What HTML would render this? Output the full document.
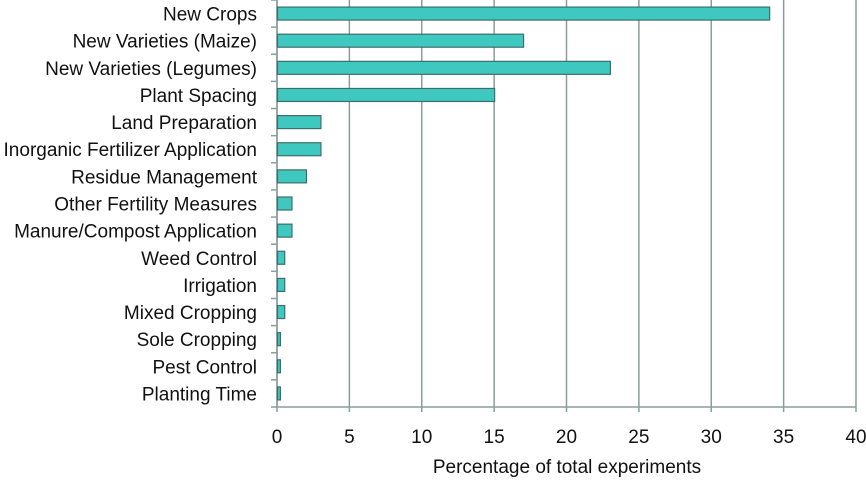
<!DOCTYPE html>
<html><head><meta charset="utf-8"><style>
body{margin:0;background:#fff;}
svg text{font-family:"Liberation Sans",sans-serif;fill:#111;}
</style></head><body>
<svg id="chart" width="866" height="477"></svg>
<script>
const categories=["New Crops","New Varieties (Maize)","New Varieties (Legumes)","Plant Spacing","Land Preparation","Inorganic Fertilizer Application","Residue Management","Other Fertility Measures","Manure/Compost Application","Weed Control","Irrigation","Mixed Cropping","Sole Cropping","Pest Control","Planting Time"];
const values=[34,17,23,15,3,3,2,1,1,0.5,0.5,0.5,0.2,0.2,0.2];
const ticks=[0,5,10,15,20,25,30,35,40];
const svg=document.getElementById('chart');
const NS='http://www.w3.org/2000/svg';
const x0=277,x1=856,yTop=0,yBot=407,xmax=40;
const xs=v=>x0+(v/xmax)*(x1-x0);
const band=(yBot-yTop)/categories.length;
function el(t,a){const e=document.createElementNS(NS,t);for(const k in a)e.setAttribute(k,a[k]);svg.appendChild(e);return e;}
ticks.forEach(t=>{
  const g=el('line',{x1:xs(t),x2:xs(t),y1:yTop,y2:yBot+5,stroke:'#8a9e9c','stroke-width':1.5});
  
  
  const l=el('text',{x:xs(t),y:443,'text-anchor':'middle','font-size':19});
  l.textContent=t;
  
  
});
const ax=el('line',{x1:x0-6,x2:x1,y1:yBot,y2:yBot,stroke:'#8a9e9c','stroke-width':1.5});


const ay=el('line',{x1:x0,x2:x0,y1:yTop,y2:yBot,stroke:'#8a9e9c','stroke-width':1.5});


categories.forEach((c,i)=>{
  const yc=yTop+band*(i+0.5);
  const tk=el('line',{x1:x0-6,x2:x0,y1:yTop+band*i,y2:yTop+band*i,stroke:'#8a9e9c','stroke-width':1.5});
  
  
  const w=Math.max(xs(values[i])-x0,2);
  const b=el('rect',{x:x0+0.5,y:yc-6.5,width:w,height:13,fill:'#3fc8c0',stroke:'#3d6e6b','stroke-width':1.2});
  
  
  const t=el('text',{x:257,y:yc+7,'text-anchor':'end','font-size':19});
  t.textContent=c;
  
  
});
const tt=el('text',{x:567,y:473,'text-anchor':'middle','font-size':19});
tt.textContent='Percentage of total experiments';


</script>
</body></html>
